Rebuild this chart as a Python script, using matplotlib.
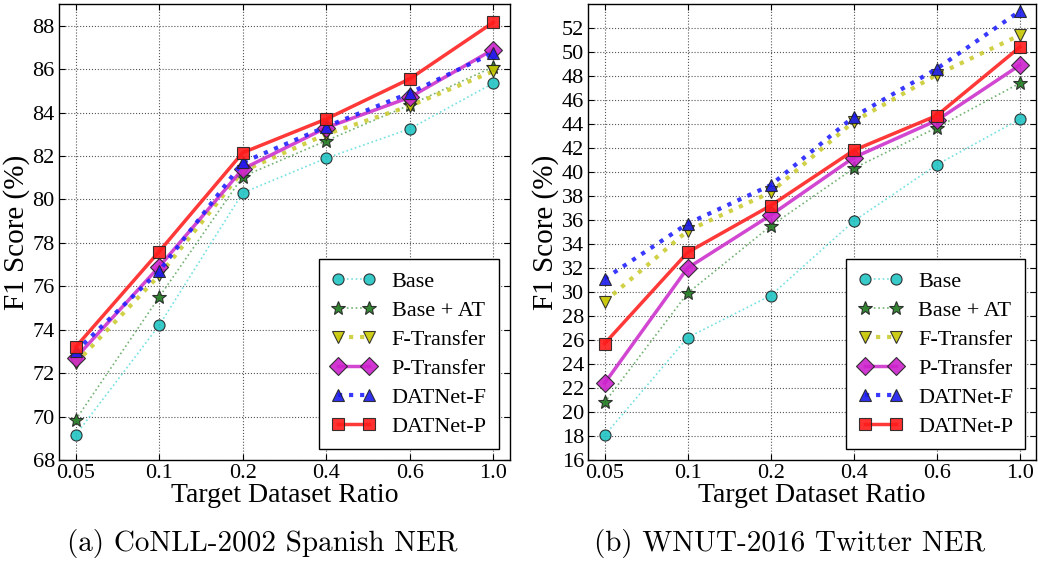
import matplotlib
matplotlib.use("Agg")
import matplotlib.pyplot as plt

ratios = ["0.05", "0.1", "0.2", "0.4", "0.6", "1.0"]
methods = ["Base", "Base + AT", "F-Transfer", "P-Transfer", "DATNet-F", "DATNet-P"]

# CoNLL-2002 Spanish NER
conll_base = [69.15, 74.2, 80.3, 81.9, 83.25, 85.35]
conll_base_at = [69.85, 75.5, 81.05, 82.7, 84.35, 86.1]
conll_f_transfer = [72.45, 76.5, 81.3, 83.0, 84.3, 85.9]
conll_p_transfer = [72.7, 76.9, 81.4, 83.3, 84.7, 86.9]
conll_datnet_f = [73.0, 76.7, 81.7, 83.35, 84.9, 86.75]
conll_datnet_p = [73.2, 77.6, 82.15, 83.7, 85.55, 88.15]

# WNUT-2016 Twitter NER
wnut_base = [18.05, 26.2, 29.7, 35.9, 40.6, 44.4]
wnut_base_at = [20.8, 29.9, 35.5, 40.3, 43.7, 47.4]
wnut_f_transfer = [29.2, 35.1, 38.3, 44.2, 48.1, 51.4]
wnut_p_transfer = [22.4, 32.0, 36.4, 41.2, 44.3, 48.9]
wnut_datnet_f = [31.1, 35.7, 38.9, 44.6, 48.6, 53.4]
wnut_datnet_p = [25.7, 33.3, 37.2, 41.8, 44.7, 50.4]

conll = [conll_base, conll_base_at, conll_f_transfer, conll_p_transfer, conll_datnet_f, conll_datnet_p]
wnut = [wnut_base, wnut_base_at, wnut_f_transfer, wnut_p_transfer, wnut_datnet_f, wnut_datnet_p]

# (line colour, marker face, marker, linestyle, linewidth, markersize)
styles = [
    ("#66dddd", "#22c4c4", "o", ":", 1.2, 8),
    ("#66aa66", "#1f7a1f", "*", ":", 1.2, 10),
    ("#cccc33", "#c8c800", "v", ":", 3.0, 8),
    ("#cc33cc", "#cc22cc", "D", "-", 2.5, 9),
    ("#2222ff", "#1a1aee", "^", ":", 3.0, 8),
    ("#ff2222", "#ff1a1a", "s", "-", 2.5, 8),
]

plt.rcParams["font.family"] = ["Liberation Serif", "DejaVu Serif"]

fig = plt.figure(figsize=(10.38, 5.63), dpi=100)
ax1 = fig.add_axes([0.0568, 0.183, 0.4345, 0.81])
ax2 = fig.add_axes([0.5665, 0.183, 0.4320, 0.81])

x = list(range(len(ratios)))


def draw_panel(ax, series, ylim, yticks):
    for i in range(len(methods)):
        col, face, mk, ls, lw, ms = styles[i]
        ax.plot(x, series[i], color=col, linestyle=ls, linewidth=lw, marker=mk,
                markersize=ms, markerfacecolor=face, markeredgecolor="#222222",
                markeredgewidth=0.8, alpha=0.9, label=methods[i])
    ax.set_xlim(-0.2, 5.2)
    ax.set_ylim(*ylim)
    ax.set_xticks(x)
    ax.set_xticklabels(ratios)
    ax.set_yticks(yticks)
    ax.tick_params(direction="in", top=True, right=True, labelsize=16, length=4, pad=3)
    ax.grid(True, color="#555555", linestyle=":", linewidth=0.8)
    ax.set_xlabel("Target Dataset Ratio", fontsize=20, labelpad=0)
    ax.set_ylabel("F1 Score (%)", fontsize=21, labelpad=2)
    for s in ax.spines.values():
        s.set_linewidth(1.0)
    leg = ax.legend(loc="lower right", fontsize=16, numpoints=2, handlelength=2.0,
                    fancybox=False, framealpha=1.0, edgecolor="black",
                    borderpad=0.55, labelspacing=0.38, handletextpad=0.7,
                    borderaxespad=0.5)
    leg.get_frame().set_linewidth(1.0)


draw_panel(ax1, conll, (68, 89), list(range(68, 89, 2)))
draw_panel(ax2, wnut, (16, 54), list(range(16, 53, 2)))

fig.text(0.253, 0.035, "(a) CoNLL-2002 Spanish NER", ha="center", va="center",
         fontsize=21, family=["cmr10"])
fig.text(0.761, 0.035, "(b) WNUT-2016 Twitter NER", ha="center", va="center",
         fontsize=21, family=["cmr10"])

fig.savefig("out.png", dpi=100)
